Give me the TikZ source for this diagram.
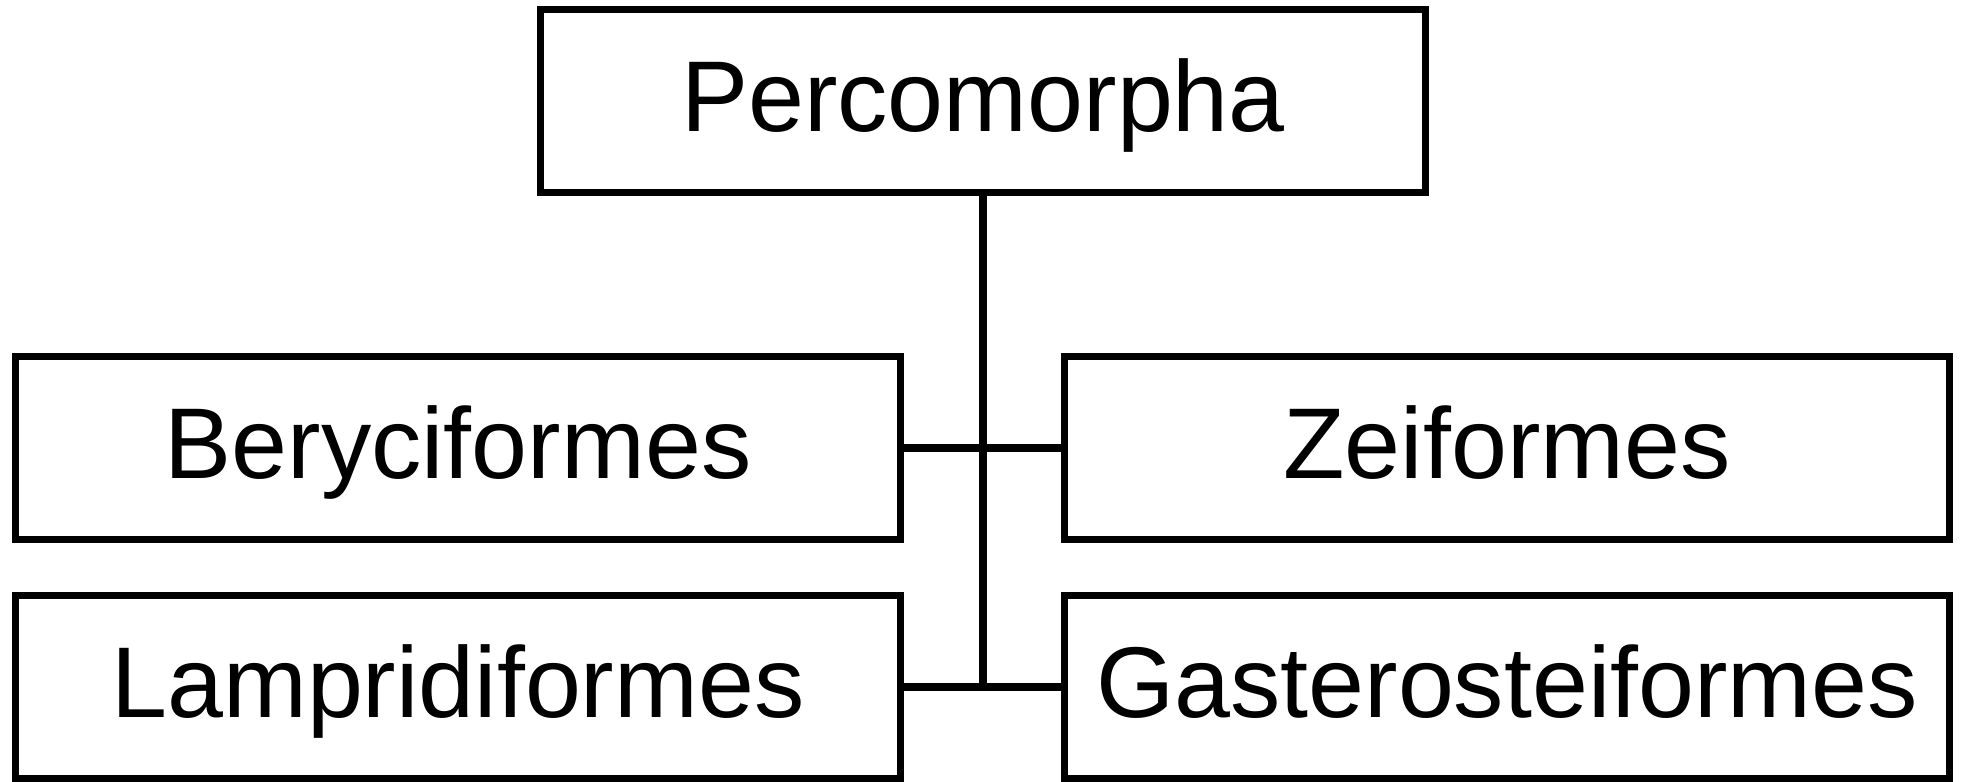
\documentclass[tikz,border=0pt]{standalone}
\usepackage{fontspec}
\setmainfont{Liberation Sans}
\begin{document}
\begin{tikzpicture}[x=0.01cm, y=-0.01cm,
	taxon/.style={draw, line width=2pt, minimum width=8.85cm, minimum height=1.82cm,
		inner sep=0pt, text height=0.8cm, text depth=0.2cm,
		font=\fontsize{28.6}{34}\selectfont}]
	\useasboundingbox (0,0) rectangle (1962,781);
	\node[taxon] (P) at (983, 101) {Percomorpha};
	\node[taxon] (B) at (458, 448) {Beryciformes};
	\node[taxon] (Z) at (1507, 448) {Zeiformes};
	\node[taxon] (L) at (458, 687) {Lampridiformes};
	\node[taxon] (G) at (1507, 687) {Gasterosteiformes};
	\draw[line width=2pt] (P.south) -- (P.south |- L.east);
	\draw[line width=2pt] (B.east) -- (Z.west);
	\draw[line width=2pt] (L.east) -- (G.west);
\end{tikzpicture}
\end{document}
